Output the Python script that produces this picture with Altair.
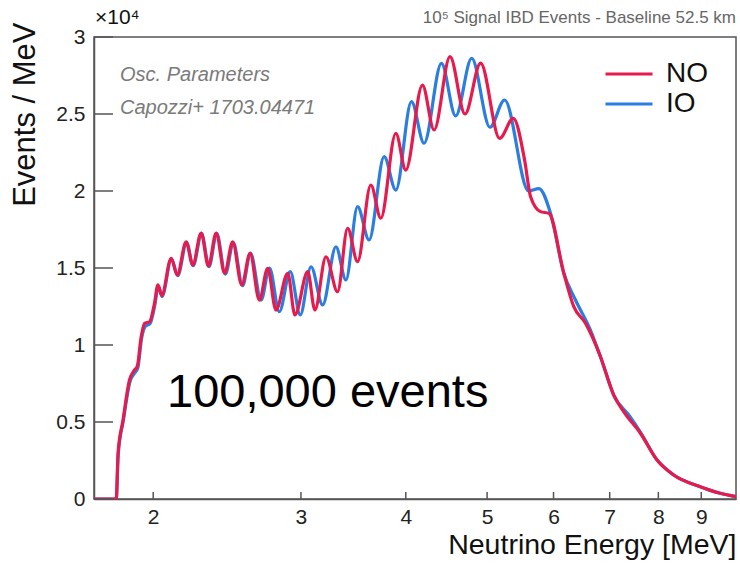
import altair as alt
import pandas as pd

# Reactor antineutrino spectrum (events per MeV, in units of 1e4) for both mass orderings
no_energy = [1.70, 1.807, 1.816, 1.841, 1.874, 1.900, 1.914, 1.935, 1.953, 1.980,
             2.007, 2.026, 2.047, 2.101, 2.136, 2.189, 2.229, 2.281, 2.327, 2.377,
             2.433, 2.487, 2.550, 2.609, 2.676, 2.738, 2.801, 2.893, 2.951, 3.056,
             3.117, 3.213, 3.317, 3.410, 3.504, 3.634, 3.735, 3.892, 4.000, 4.187,
             4.323, 4.516, 4.706, 4.912, 5.175, 5.373, 5.542, 5.634, 5.790, 5.924,
             6.172, 6.343, 6.550, 6.825, 7.078, 7.274, 7.615, 7.972, 8.343, 8.976,
             9.482, 9.900]
no_events = [0, 0, 0.297, 0.513, 0.773, 0.838, 0.859, 1.054, 1.141, 1.151,
             1.271, 1.390, 1.321, 1.563, 1.455, 1.669, 1.519, 1.727, 1.513, 1.727,
             1.466, 1.669, 1.390, 1.595, 1.292, 1.498, 1.227, 1.466, 1.195, 1.476,
             1.227, 1.573, 1.346, 1.758, 1.541, 2.039, 1.823, 2.375, 2.136, 2.688,
             2.396, 2.872, 2.500, 2.831, 2.342, 2.472, 2.201, 1.963, 1.866, 1.855,
             1.466, 1.249, 1.141, 0.924, 0.675, 0.567, 0.427, 0.253, 0.156, 0.080,
             0.037, 0.015]

io_energy = [1.70, 1.807, 1.817, 1.842, 1.876, 1.902, 1.917, 1.937, 1.956, 1.983,
             2.009, 2.028, 2.049, 2.103, 2.139, 2.192, 2.232, 2.284, 2.331, 2.381,
             2.438, 2.492, 2.556, 2.612, 2.689, 2.752, 2.827, 2.913, 2.994, 3.084,
             3.184, 3.302, 3.394, 3.504, 3.617, 3.769, 3.892, 4.063, 4.206, 4.411,
             4.587, 4.793, 5.039, 5.246, 5.603, 5.764, 5.951, 6.172, 6.373, 6.640,
             6.825, 7.078, 7.409, 7.615, 7.972, 8.343, 8.976, 9.482, 9.900]
io_events = [0, 0, 0.29, 0.505, 0.76, 0.82, 0.85, 1.04, 1.12, 1.14,
             1.26, 1.385, 1.315, 1.56, 1.45, 1.665, 1.515, 1.725, 1.508, 1.725,
             1.46, 1.665, 1.385, 1.597, 1.292, 1.500, 1.216, 1.476, 1.195, 1.508,
             1.260, 1.638, 1.422, 1.898, 1.682, 2.223, 2.006, 2.580, 2.310, 2.829,
             2.487, 2.862, 2.414, 2.591, 2.000, 2.016, 1.855, 1.466, 1.292, 1.097,
             0.924, 0.675, 0.532, 0.435, 0.253, 0.156, 0.080, 0.037, 0.015]

x_ticks = [2, 3, 4, 5, 6, 7, 8, 9]
y_ticks = [0, 0.5, 1, 1.5, 2, 2.5, 3]
orderings = ["NO", "IO"]
colors = ["#e8194b", "#2b7de0"]

W, H = 642, 462
FONT = "Liberation Sans"
AXIS_GREY = "#555555"

spectra = pd.concat([
    pd.DataFrame({"energy": no_energy, "events": no_events, "ordering": "NO"}),
    pd.DataFrame({"energy": io_energy, "events": io_events, "ordering": "IO"}),
], ignore_index=True)

x_scale = alt.Scale(type="log", domain=[1.7, 9.9], nice=False)
y_scale = alt.Scale(domain=[0, 3], nice=False, zero=False)
color_scale = alt.Scale(domain=orderings, range=colors)

x_axis = alt.Axis(
    values=x_ticks, format="~g", ticks=False, grid=False,
    domainColor=AXIS_GREY, domainWidth=1.5,
    labelFont=FONT, labelFontSize=21, labelColor="#222222", labelPadding=7,
    title="Neutrino Energy [MeV]", titleFont=FONT, titleFontSize=28.5,
    titleFontWeight="normal", titleColor="#111111",
    titleAlign="right", titleBaseline="alphabetic", titleX=W, titleY=54,
)
y_axis = alt.Axis(
    values=y_ticks, format="~g", ticks=False, grid=False,
    domainColor=AXIS_GREY, domainWidth=1.5,
    labelFont=FONT, labelFontSize=21, labelColor="#222222", labelPadding=9,
    title="Events / MeV", titleFont=FONT, titleFontSize=31,
    titleFontWeight="normal", titleColor="#111111",
    titleAngle=270, titleAlign="right", titleBaseline="alphabetic",
    titleX=-60, titleY=-15,
)
# long flat line symbols: a wide horizontal path drawn inside a small symbol box
legend = alt.Legend(
    title=None, orient="none", legendX=521, legendY=23, padding=0,
    symbolType="M-2.35,0H2.35", symbolSize=400, symbolStrokeWidth=3.2,
    labelFont=FONT, labelFontSize=28, labelColor="#111111",
    labelOffset=23, rowPadding=2,
)

base = alt.Chart(spectra)


def spectrum(name):
    return base.transform_filter(alt.datum.ordering == name).mark_line(
        strokeWidth=3.2, interpolate="monotone", clip=True
    ).encode(
        x=alt.X("energy:Q", scale=x_scale, axis=x_axis),
        y=alt.Y("events:Q", scale=y_scale, axis=y_axis),
        color=alt.Color("ordering:N", scale=color_scale, legend=legend),
    )


# inward-pointing tick marks (they share the axes of the spectra)
x_tick_marks = alt.Chart(pd.DataFrame({"energy": x_ticks})).mark_rule(
    color=AXIS_GREY, strokeWidth=1.5
).encode(
    x=alt.X("energy:Q", scale=x_scale, axis=x_axis),
    y=alt.value(H), y2=alt.value(H - 7),
)
y_tick_marks = alt.Chart(pd.DataFrame({"events": y_ticks})).mark_rule(
    color=AXIS_GREY, strokeWidth=1.5
).encode(
    y=alt.Y("events:Q", scale=y_scale, axis=y_axis),
    x=alt.value(0), x2=alt.value(19),
)


def label(text, x, y, **style):
    return alt.Chart(pd.DataFrame({"t": [text]})).mark_text(
        font=FONT, **style
    ).encode(text="t:N", x=alt.value(x), y=alt.value(y))


annotations = [
    label("Osc. Parameters", 26, 38, fontSize=20, fontStyle="italic",
          color="#7a7a7a", align="left", baseline="middle"),
    label("Capozzi+ 1703.04471", 26, 71, fontSize=20, fontStyle="italic",
          color="#7a7a7a", align="left", baseline="middle"),
    label("100,000 events", 73, 370, fontSize=47, color="#000000",
          align="left", baseline="alphabetic"),
    label("×10⁴", 1, -13, fontSize=21, color="#111111",
          align="left", baseline="alphabetic"),
    label("10⁵ Signal IBD Events - Baseline 52.5 km", W, -19, fontSize=17,
          color="#666666", align="right", baseline="middle"),
]

chart = alt.layer(
    spectrum("IO"), spectrum("NO"), x_tick_marks, y_tick_marks, *annotations
).properties(
    width=W, height=H,
    padding={"left": 94, "top": 37, "right": 4, "bottom": 65},
    autosize=alt.AutoSizeParams(type="none"),
    background="white",
).configure_view(stroke=AXIS_GREY, strokeWidth=1.5)

chart.save("out.html", embed_options={"renderer": "svg", "actions": False})
